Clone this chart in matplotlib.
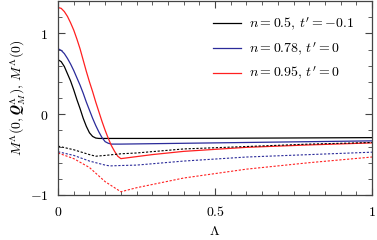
import numpy as np
import matplotlib
matplotlib.use('Agg')
import matplotlib.pyplot as plt
from matplotlib.ticker import MultipleLocator

plt.rcParams['mathtext.fontset'] = 'cm'
plt.rcParams['font.family'] = 'serif'
plt.rcParams['font.serif'] = ['DejaVu Serif']

# solid lines: M^Lambda(0, Q_M^Lambda)
lam_k = [0, 0.01, 0.02, 0.03, 0.04, 0.05, 0.06, 0.07, 0.08, 0.09, 0.10, 0.11, 0.12, 0.13, 0.15, 0.3, 0.5, 0.7, 1.0]
sol_k = [0.675, 0.65, 0.59, 0.50, 0.41, 0.30, 0.18, 0.07, -0.05, -0.15, -0.23, -0.275, -0.295, -0.30, -0.30, -0.30, -0.298, -0.295, -0.29]

lam_b = [0, 0.01, 0.02, 0.03, 0.04, 0.05, 0.06, 0.07, 0.08, 0.09, 0.10, 0.11, 0.12, 0.13, 0.14, 0.15, 0.16, 0.17, 0.2, 0.5, 1.0]
sol_b = [0.81, 0.79, 0.75, 0.69, 0.62, 0.54, 0.45, 0.36, 0.26, 0.15, 0.05, -0.05, -0.14, -0.22, -0.29, -0.34, -0.36, -0.37, -0.37, -0.355, -0.33]

lam_r = [0, 0.01, 0.02, 0.03, 0.04, 0.05, 0.06, 0.07, 0.08, 0.09, 0.10, 0.11, 0.12, 0.13, 0.14, 0.15, 0.16, 0.17, 0.18, 0.19, 0.20, 0.22, 0.3, 0.4, 0.6, 0.8, 1.0]
sol_r = [1.32, 1.31, 1.27, 1.21, 1.13, 1.04, 0.93, 0.81, 0.67, 0.53, 0.40, 0.28, 0.15, 0.03, -0.09, -0.20, -0.30, -0.39, -0.46, -0.52, -0.55, -0.54, -0.50, -0.46, -0.41, -0.38, -0.355]

# dashed lines: M^Lambda(0)
lam_d = [0, 0.05, 0.1, 0.12, 0.15, 0.2, 0.25, 0.4, 0.6, 0.8, 1.0]
dash_k = [-0.395, -0.44, -0.50, -0.52, -0.51, -0.49, -0.48, -0.43, -0.40, -0.37, -0.35]
lam_db = [0, 0.05, 0.1, 0.15, 0.165, 0.2, 0.25, 0.4, 0.6, 0.8, 1.0]
dash_b = [-0.465, -0.51, -0.58, -0.63, -0.64, -0.635, -0.63, -0.58, -0.53, -0.50, -0.47]
lam_dr = [0, 0.05, 0.1, 0.15, 0.2, 0.25, 0.4, 0.6, 0.8, 1.0]
dash_r = [-0.48, -0.55, -0.66, -0.835, -0.96, -0.91, -0.79, -0.68, -0.60, -0.53]

labels = [r"$n=0.5,\, t'=-0.1$", r"$n=0.78,\, t'=0$", r"$n=0.95,\, t'=0$"]
colors = ['black', '#2b2b9a', '#ff2020']

fig = plt.figure(figsize=(3.77, 2.40), dpi=100)
ax = fig.add_axes([0.154, 0.1875, 0.833, 0.808])

ax.plot(lam_k, sol_k, color=colors[0], lw=0.9, label=labels[0])
ax.plot(lam_b, sol_b, color=colors[1], lw=0.9, label=labels[1])
ax.plot(lam_r, sol_r, color=colors[2], lw=0.9, label=labels[2])
ax.plot(lam_d, dash_k, color=colors[0], lw=0.8, dashes=(2, 1.5))
ax.plot(lam_db, dash_b, color=colors[1], lw=0.8, dashes=(2, 1.5))
ax.plot(lam_dr, dash_r, color=colors[2], lw=0.8, dashes=(2, 1.5))

ax.set_xlim(0, 1)
ax.set_ylim(-1, 1.4)
ax.set_xticks([0, 0.5, 1])
ax.set_xticklabels(['$0$', '$0.5$', '$1$'])
ax.set_yticks([-1, 0, 1])
ax.set_yticklabels(['$-1$', '$0$', '$1$'])
ax.xaxis.set_minor_locator(MultipleLocator(0.05))
ax.yaxis.set_minor_locator(MultipleLocator(0.2))
ax.tick_params(which='both', direction='in', top=True, right=True, labelsize=10, color='#444444')
ax.tick_params(which='major', length=5, pad=7)
ax.tick_params(which='minor', length=3)
for s in ax.spines.values():
    s.set_color('#444444')
    s.set_linewidth(0.9)

ax.set_xlabel(r'$\Lambda$', fontsize=10, labelpad=4)
ax.set_ylabel(r'$M^\Lambda(0,\boldsymbol{Q}_M^\Lambda),\, M^\Lambda(0)$', fontsize=10, labelpad=2)

ax.legend(loc='upper right', bbox_to_anchor=(0.975, 0.975), frameon=False, fontsize=10,
          handlelength=2.0, handletextpad=0.6, labelspacing=0.55, borderaxespad=0.3)

fig.savefig('out.png', dpi=100)
